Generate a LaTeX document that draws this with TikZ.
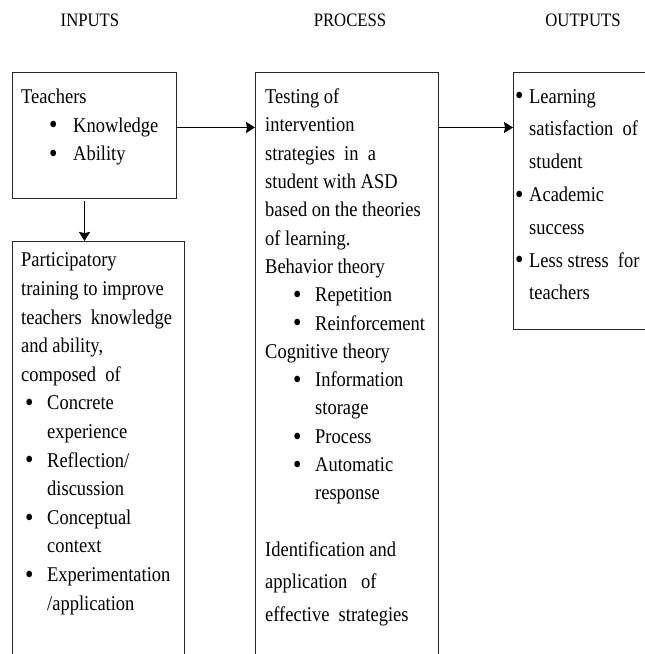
\documentclass[tikz,border=0pt]{standalone}
\usepackage{fontspec}
\setmainfont{Liberation Serif}[FakeStretch=0.88]
\usetikzlibrary{arrows.meta}
\tikzstyle{box} = [rectangle, draw=black!85, line width=1pt, inner sep=0pt, anchor=north west]
\tikzstyle{title} = [font=\fontsize{19}{22}\selectfont, inner sep=0pt, anchor=base]
\tikzstyle{txt} = [font=\fontsize{21}{28.6}\selectfont, inner sep=0pt, anchor=north west, align=left]
\tikzstyle{arrow} = [line width=1.4pt, -{Stealth[length=9pt, width=11pt, inset=1pt]}]
\newcommand{\bitem}[2]{\hspace*{#1}\makebox[#2][l]{\raisebox{-1.8pt}{\scalebox{1.3}{\textbullet}}}}

\begin{document}
\begin{tikzpicture}[x=1pt, y=-1pt]
\useasboundingbox (0,0) rectangle (645,654);

\node (tin) [title] at (90,26) {INPUTS};
\node (tproc) [title] at (350,26) {PROCESS};
\node (tout) [title] at (583,26) {OUTPUTS};

\node (teach) [box, minimum width=164pt, minimum height=126pt] at (12,72) {};

\node (part) [box, minimum width=172pt, minimum height=440pt] at ([yshift=-42pt]teach.south west) {};

\node (proc) [box, minimum width=183pt, minimum height=610pt] at ([xshift=78pt]teach.north east) {};

\node (outp) [box, minimum width=160pt, minimum height=257pt] at ([xshift=74pt]proc.north east) {};

\node (teachtxt) [txt] at (21,88.7) {Teachers\\
\bitem{28pt}{24pt}Knowledge\\
\bitem{28pt}{24pt}Ability};

\node (parttxt) [txt] at (21,252.7) {Participatory\\
training to improve\\
teachers\ \ knowledge\\
and ability,\\
composed\ \ of\\
\bitem{4pt}{22pt}Concrete\\
\hspace*{26pt}experience\\
\bitem{4pt}{22pt}Reflection/\\
\hspace*{26pt}discussion\\
\bitem{4pt}{22pt}Conceptual\\
\hspace*{26pt}context\\
\bitem{4pt}{22pt}Experimentation\\
\hspace*{26pt}/application};

\node (proctxt) [txt, font=\fontsize{21}{28.3}\selectfont] at (265,88.7) {Testing of\\
intervention\\
strategies\ \ in\ \ a\\
student with ASD\\
based on the theories\\
of learning.\\
Behavior theory\\
\bitem{28pt}{22pt}Repetition\\
\bitem{28pt}{22pt}Reinforcement\\
Cognitive theory\\
\bitem{28pt}{22pt}Information\\
\hspace*{50pt}storage\\
\bitem{28pt}{22pt}Process\\
\bitem{28pt}{22pt}Automatic\\
\hspace*{50pt}response\\[28pt]
Identification and\\[4.5pt]
application\ \ \ of\\[4pt]
effective\ \ strategies};

\node (outptxt) [txt, font=\fontsize{21}{32.8}\selectfont] at (515,89) {\bitem{0pt}{14pt}Learning\\
\hspace*{14pt}satisfaction\ \ of\\
\hspace*{14pt}student\\
\bitem{0pt}{14pt}Academic\\
\hspace*{14pt}success\\
\bitem{0pt}{14pt}Less stress\ \ for\\
\hspace*{14pt}teachers};

\draw [arrow] ([yshift=8pt]teach.east) -- ([yshift=8pt]teach.east -| proc.west);
\draw [arrow] ([yshift=8pt]teach.east -| proc.east) -- ([yshift=8pt]teach.east -| outp.west);
\draw [arrow] ([xshift=-10pt,yshift=-2pt]teach.south) -- ([xshift=-10pt]teach.south |- part.north);
\end{tikzpicture}
\end{document}
